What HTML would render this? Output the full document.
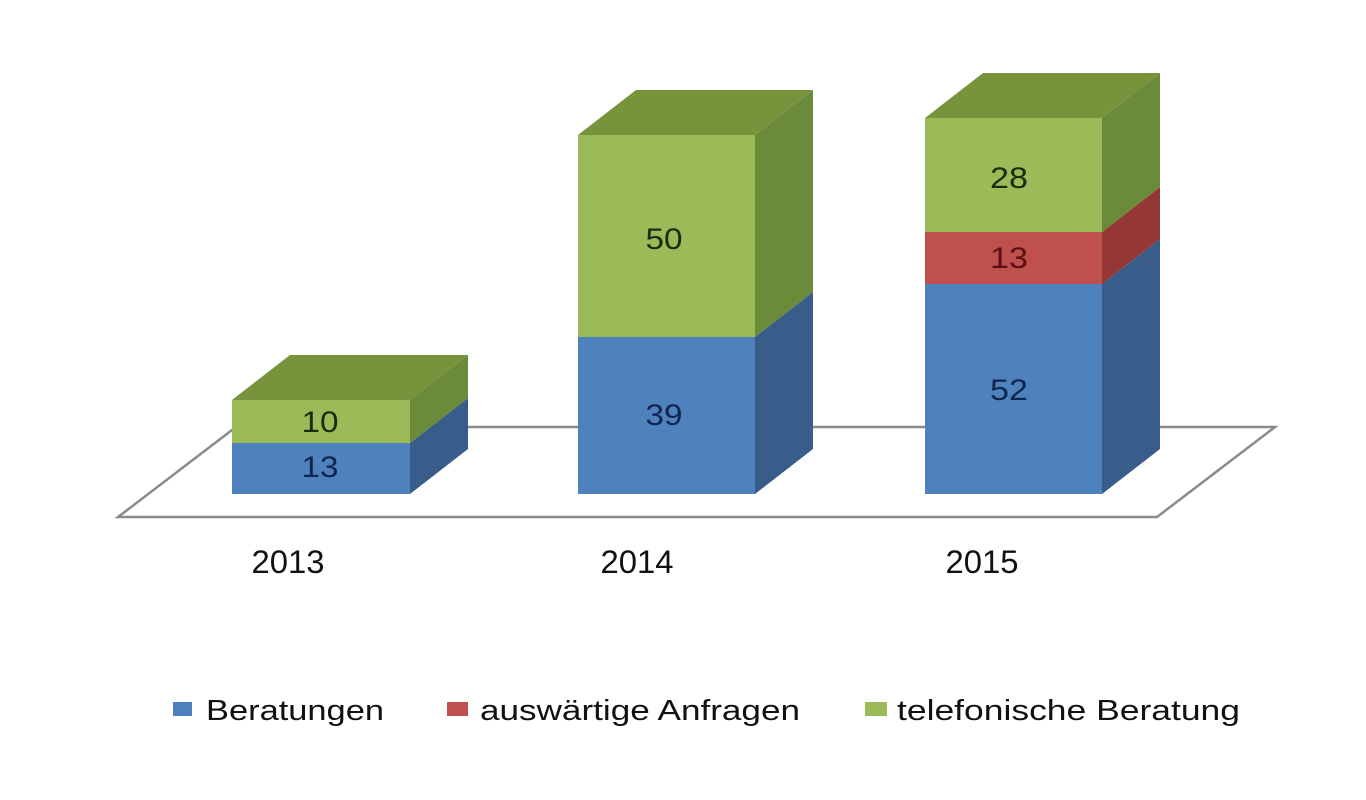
<!DOCTYPE html>
<html>
<head>
<meta charset="utf-8">
<style>
html,body{margin:0;padding:0;background:#fff;}
svg{display:block;}
text{font-family:"Liberation Sans",sans-serif;}
</style>
</head>
<body>
<svg width="1366" height="800" viewBox="0 0 1366 800" xmlns="http://www.w3.org/2000/svg">
<rect width="1366" height="800" fill="#ffffff"/>
<!-- floor -->
<polygon points="118,517 1157,517 1275,427 236,427" fill="#ffffff" stroke="#8a8a8a" stroke-width="2.5"/>

<!-- 2013 bar -->
<g>
<polygon points="410,443 468,398 468,449 410,494" fill="#385D8A"/>
<polygon points="410,400 468,355 468,398 410,443" fill="#6B8A3A"/>
<polygon points="232,400 290,355 468,355 410,400" fill="#77933C"/>
<rect x="232" y="443" width="178" height="51" fill="#4F81BD"/>
<rect x="232" y="400" width="178" height="43" fill="#9BBB59"/>
</g>

<!-- 2014 bar -->
<g>
<polygon points="755,337 813,292 813,449 755,494" fill="#385D8A"/>
<polygon points="755,135 813,90 813,292 755,337" fill="#6B8A3A"/>
<polygon points="578,135 636,90 813,90 755,135" fill="#77933C"/>
<rect x="578" y="337" width="177" height="157" fill="#4F81BD"/>
<rect x="578" y="135" width="177" height="202" fill="#9BBB59"/>
</g>

<!-- 2015 bar -->
<g>
<polygon points="1102,284 1160,239 1160,449 1102,494" fill="#385D8A"/>
<polygon points="1102,232 1160,187 1160,239 1102,284" fill="#953735"/>
<polygon points="1102,118 1160,73 1160,187 1102,232" fill="#6B8A3A"/>
<polygon points="925,118 983,73 1160,73 1102,118" fill="#77933C"/>
<rect x="925" y="284" width="177" height="210" fill="#4F81BD"/>
<rect x="925" y="232" width="177" height="52" fill="#C0504D"/>
<rect x="925" y="118" width="177" height="114" fill="#9BBB59"/>
</g>

<!-- value labels -->
<g font-size="30" text-anchor="middle">
<text x="320" y="432" fill="#1d2b0c" textLength="37" lengthAdjust="spacingAndGlyphs">10</text>
<text x="320" y="477" fill="#0f2550" textLength="37" lengthAdjust="spacingAndGlyphs">13</text>
<text x="664" y="249" fill="#1d2b0c" textLength="37" lengthAdjust="spacingAndGlyphs">50</text>
<text x="664" y="425" fill="#0f2550" textLength="37" lengthAdjust="spacingAndGlyphs">39</text>
<text x="1009" y="188" fill="#1d2b0c" textLength="38" lengthAdjust="spacingAndGlyphs">28</text>
<text x="1009" y="268" fill="#5a1010" textLength="38" lengthAdjust="spacingAndGlyphs">13</text>
<text x="1009" y="400" fill="#0f2550" textLength="38" lengthAdjust="spacingAndGlyphs">52</text>
</g>

<!-- year labels -->
<g font-size="32" fill="#111" text-anchor="middle">
<text x="288" y="573" textLength="73" lengthAdjust="spacingAndGlyphs">2013</text>
<text x="637" y="573" textLength="73" lengthAdjust="spacingAndGlyphs">2014</text>
<text x="982" y="573" textLength="73" lengthAdjust="spacingAndGlyphs">2015</text>
</g>

<!-- legend -->
<rect x="173" y="702" width="19" height="14" fill="#4F81BD"/>
<text x="206" y="720" font-size="29" fill="#111" textLength="178" lengthAdjust="spacingAndGlyphs">Beratungen</text>
<rect x="447" y="702" width="21" height="14" fill="#C0504D"/>
<text x="480" y="720" font-size="29" fill="#111" textLength="320" lengthAdjust="spacingAndGlyphs">auswärtige Anfragen</text>
<rect x="865" y="702" width="22" height="14" fill="#9BBB59"/>
<text x="897" y="720" font-size="29" fill="#111" textLength="343" lengthAdjust="spacingAndGlyphs">telefonische Beratung</text>
</svg>
</body>
</html>
